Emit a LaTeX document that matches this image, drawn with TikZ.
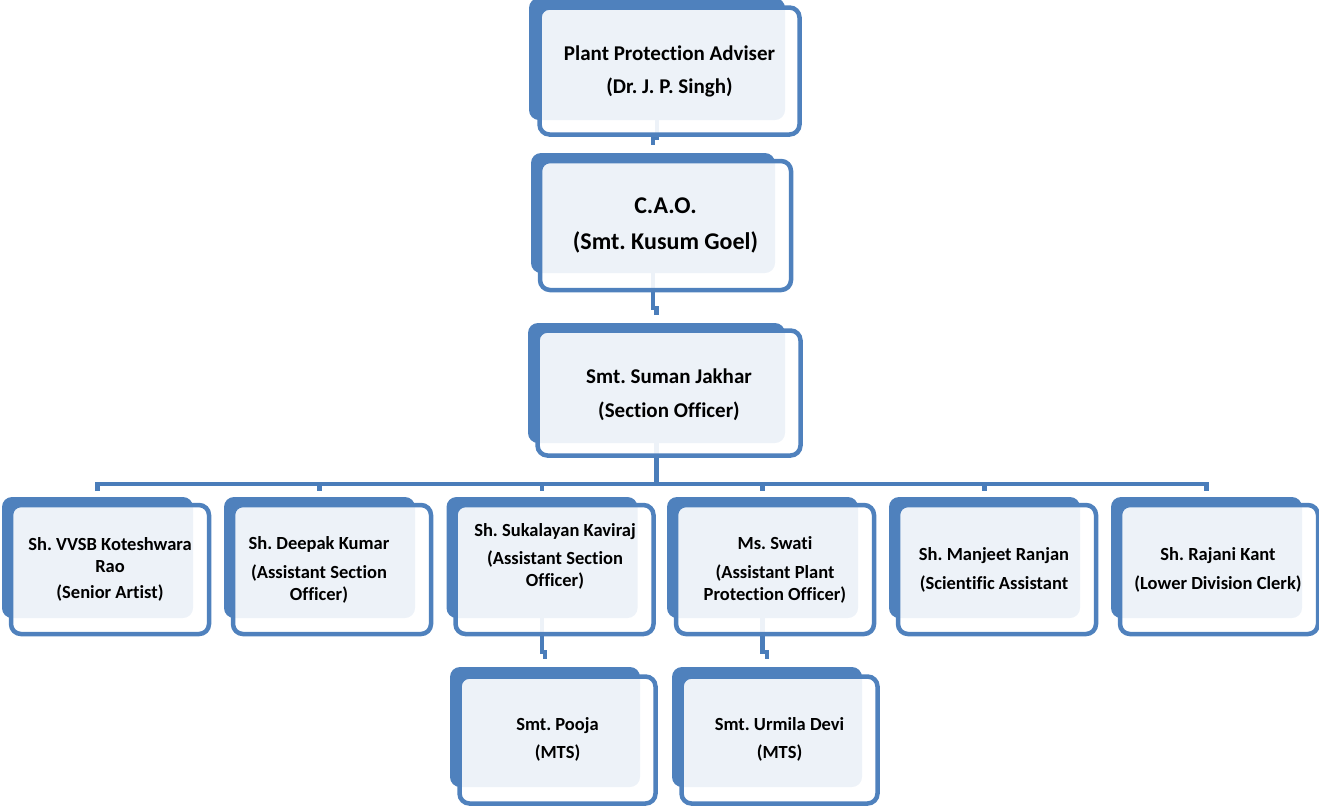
\documentclass[tikz,border=0pt]{standalone}
\usepackage{fontspec}
\setmainfont{Carlito}[Ligatures=NoCommon]
\frenchspacing
\definecolor{boxblue}{HTML}{4F81BD}
\definecolor{lineblue}{HTML}{4A7DBA}
\tikzset{
  back/.style={fill=boxblue, rounded corners=10pt, inner sep=0pt, outer sep=0pt},
  front/.style={draw=boxblue, line width=4.5pt, fill=white, fill opacity=0.9, rounded corners=10pt, inner sep=0pt, outer sep=0pt},
  conn/.style={draw=lineblue, line width=4.5pt},
  bigtxt/.style={font=\bfseries\fontsize{21}{25.6}\selectfont, align=center, inner sep=0pt},
  caotxt/.style={font=\bfseries\fontsize{24}{29}\selectfont, align=center, inner sep=0pt},
  smalltxt/.style={font=\bfseries\fontsize{18.5}{22}\selectfont, align=center, inner sep=0pt},
  rowback/.style={back, minimum width=191pt, minimum height=121pt},
  rowfront/.style={front, minimum width=198pt, minimum height=129pt},
  lowback/.style={back, minimum width=190pt, minimum height=120pt},
  lowfront/.style={front, minimum width=196pt, minimum height=127pt}
}
\begin{document}
\begin{tikzpicture}[x=1pt,y=-1pt]
\useasboundingbox (0,0) rectangle (1319,807);
% back boxes
\node[back, minimum width=256pt, minimum height=122pt] (top-b) at (657,59) {};
\node[back, minimum width=244pt, minimum height=120pt] (cao-b) at (653,213) {};
\node[back, minimum width=257pt, minimum height=120pt] (sj-b) at (656.5,383) {};
\node[rowback] (b1-b) at (97.5,557.5) {};
\node[rowback] (b2-b) at (319.5,557.5) {};
\node[rowback] (b3-b) at (542,557.5) {};
\node[rowback] (b4-b) at (762.5,557.5) {};
\node[rowback] (b5-b) at (984.5,557.5) {};
\node[rowback] (b6-b) at (1206.5,557.5) {};
\node[lowback] (pj-b) at (545,727) {};
\node[lowback] (ud-b) at (767,727) {};
% connectors
\coordinate (busy) at (0,484);
\draw[conn] (top-b.south) |- ([yshift=15pt]cao-b.north) -- ([yshift=8pt]cao-b.north);
\draw[conn] (cao-b.south) |- ([yshift=15pt]sj-b.north) -- ([yshift=8pt]sj-b.north);
\draw[conn] (sj-b.south) -- (sj-b.south |- busy);
\draw[conn] ([yshift=6pt]b1-b.north) -- (b1-b.north |- busy) -- (b6-b.north |- busy) -- ([yshift=6pt]b6-b.north);
\draw[conn] (b2-b.north |- busy) -- ([yshift=6pt]b2-b.north);
\draw[conn] (b3-b.north |- busy) -- ([yshift=6pt]b3-b.north);
\draw[conn] (b4-b.north |- busy) -- ([yshift=6pt]b4-b.north);
\draw[conn] (b5-b.north |- busy) -- ([yshift=6pt]b5-b.north);
\draw[conn] (b3-b.south) |- ([yshift=15pt]pj-b.north) -- ([yshift=8pt]pj-b.north);
\draw[conn] (b4-b.south) |- ([yshift=15pt]ud-b.north) -- ([yshift=8pt]ud-b.north);
% front boxes
\node[front, minimum width=260pt, minimum height=127pt] (top) at (669.5,71) {};
\node[front, minimum width=251pt, minimum height=129pt] (cao) at (665.5,225.5) {};
\node[front, minimum width=263pt, minimum height=125pt] (sj) at (669,393) {};
\node[rowfront] (b1) at (110,569.5) {};
\node[rowfront] (b2) at (332,569.5) {};
\node[rowfront] (b3) at (554.5,569.5) {};
\node[rowfront] (b4) at (775,569.5) {};
\node[rowfront] (b5) at (997,569.5) {};
\node[rowfront] (b6) at (1219,569.5) {};
\node[lowfront] (pj) at (557.5,740) {};
\node[lowfront] (ud) at (779.5,740) {};
% texts
\node[bigtxt] (top-t) at (669.5,71.5) {Plant Protection Adviser\\[7pt](Dr. J. P. Singh)};
\node[caotxt] (cao-t) at (665.5,225) {C.A.O.\\[7pt](Smt. Kusum Goel)};
\node[bigtxt] (sj-t) at (669,395) {Smt. Suman Jakhar\\[8pt](Section Officer)};
\node[smalltxt] (b1-t) at (110,569) {Sh. VVSB Koteshwara\\Rao\\[4pt](Senior Artist)};
\node[smalltxt] (b2-t) at (319,569.5) {Sh. Deepak Kumar\\[7pt](Assistant Section\\Officer)};
\node[smalltxt] (b3-t) at (555,556) {Sh. Sukalayan Kaviraj\\[6pt](Assistant Section\\Officer)};
\node[smalltxt] (b4-t) at (775,569.5) {Ms. Swati\\[7pt](Assistant Plant\\Protection Officer)};
\node[smalltxt] (b5-t) at (994,569.5) {Sh. Manjeet Ranjan\\[7pt](Scientific Assistant};
\node[smalltxt] (b6-t) at (1218,569.5) {Sh. Rajani Kant\\[7pt](Lower Division Clerk)};
\node[smalltxt] (pj-t) at (557.5,739) {Smt. Pooja\\[6pt](MTS)};
\node[smalltxt] (ud-t) at (779.5,739) {Smt. Urmila Devi\\[6pt](MTS)};
\end{tikzpicture}
\end{document}
